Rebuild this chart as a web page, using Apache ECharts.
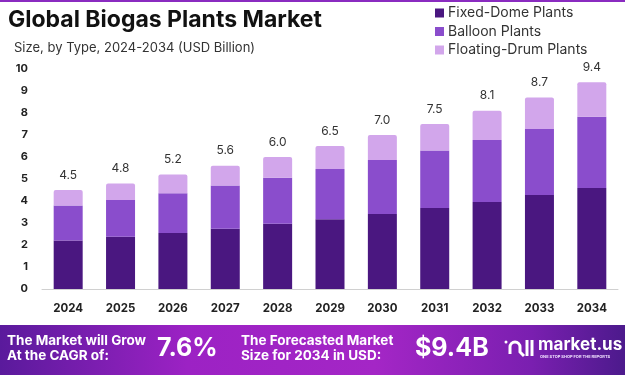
<!DOCTYPE html>
<html>
<head>
<meta charset="utf-8">
<script src="https://cdn.jsdelivr.net/npm/echarts@6/dist/echarts.min.js"></script>
<style>
  html, body { margin: 0; padding: 0; background: #fff; }
  #chart { width: 625px; height: 375px; }
</style>
</head>
<body>
<div id="chart"></div>
<script>
// data
var years = ['2024', '2025', '2026', '2027', '2028', '2029', '2030', '2031', '2032', '2033', '2034'];
var fixedDome = [2.2, 2.38, 2.55, 2.74, 2.97, 3.17, 3.41, 3.68, 3.95, 4.27, 4.59];
var balloon = [1.6, 1.67, 1.8, 1.96, 2.09, 2.28, 2.45, 2.61, 2.82, 3.0, 3.24];
var floatingDrum = [0.7, 0.75, 0.85, 0.9, 0.94, 1.05, 1.14, 1.21, 1.33, 1.43, 1.57];
var totals = ['4.5', '4.8', '5.2', '5.6', '6.0', '6.5', '7.0', '7.5', '8.1', '8.7', '9.4'];

var font = 'Inter';
var chart = echarts.init(document.getElementById('chart'));

chart.setOption({
    animation: false,
    textStyle: { fontFamily: font },
    title: [
        {
            text: 'Global Biogas Plants Market',
            left: 8, top: 9, padding: 0,
            textStyle: { fontSize: 23, fontWeight: 'bold', color: '#111', fontFamily: font }
        },
        {
            text: 'Size, by Type, 2024-2034 (USD Billion)',
            left: 14, top: 42, padding: 0,
            textStyle: { fontSize: 13, fontWeight: 'normal', color: '#333', fontFamily: font }
        }
    ],
    legend: {
        orient: 'vertical',
        left: 435,
        top: 6,
        padding: 0,
        itemWidth: 9,
        itemHeight: 9,
        itemGap: 4.5,
        icon: 'rect',
        textStyle: { fontSize: 14, lineHeight: 14, color: '#333', fontFamily: font, padding: [0, 0, 0, -1] }
    },
    grid: { left: 42, right: 7, top: 69, bottom: 86 },
    xAxis: {
        type: 'category',
        data: years,
        axisLine: { lineStyle: { color: '#d0d0d0' } },
        axisTick: { show: false },
        axisLabel: { color: '#222', fontWeight: 'bold', fontSize: 11.5, margin: 14 }
    },
    yAxis: {
        type: 'value',
        min: 0,
        max: 10,
        interval: 1,
        splitLine: { show: false },
        axisLabel: { color: '#222', fontWeight: 'bold', fontSize: 11, margin: 14 }
    },
    series: [
        {
            name: 'Fixed-Dome Plants', type: 'bar', stack: 'a', data: fixedDome,
            barWidth: 29, itemStyle: { color: '#4A1780' }
        },
        {
            name: 'Balloon Plants', type: 'bar', stack: 'a', data: balloon,
            itemStyle: { color: '#8A4DCC' }
        },
        {
            name: 'Floating-Drum Plants', type: 'bar', stack: 'a', data: floatingDrum,
            itemStyle: { color: '#D2A6EB', borderRadius: [2, 2, 0, 0] },
            label: {
                show: true, position: 'top', distance: 9,
                color: '#333', fontSize: 12,
                formatter: function (p) { return totals[p.dataIndex]; }
            }
        }
    ],
    graphic: [
        // thin line at the top edge
        { type: 'rect', left: 0, top: 0, shape: { width: 625, height: 2 }, style: { fill: '#8a2bc0' } },
        // bottom banner
        {
            type: 'rect', left: 0, top: 325, shape: { width: 625, height: 50 },
            style: {
                fill: new echarts.graphic.LinearGradient(0, 0, 1, 0, [
                    { offset: 0, color: '#5a1a9c' },
                    { offset: 0.3, color: '#9c22c4' },
                    { offset: 0.6, color: '#a426c6' },
                    { offset: 0.85, color: '#7a1fb0' },
                    { offset: 1, color: '#4c1a8c' }
                ])
            }
        },
        {
            type: 'text', left: 7, top: 333,
            style: { text: 'The Market will Grow\nAt the CAGR of:', fill: '#fff', font: 'bold 13.5px Inter', lineHeight: 15 }
        },
        {
            type: 'text', left: 157, top: 336,
            style: { text: '7.6%', fill: '#fff', font: 'bold 25px Inter', shadowBlur: 4, shadowColor: 'rgba(0,0,0,0.3)' }
        },
        {
            type: 'text', left: 241, top: 333,
            style: { text: 'The Forecasted Market\nSize for 2034 in USD:', fill: '#fff', font: 'bold 13.5px Inter', lineHeight: 15 }
        },
        {
            type: 'text', left: 415, top: 336,
            style: { text: '$9.4B', fill: '#fff', font: 'bold 25px Inter', shadowBlur: 4, shadowColor: 'rgba(0,0,0,0.3)' }
        },
        // logo mark
        {
            type: 'arc', shape: { cx: 515, cy: 347, r: 5, startAngle: Math.PI, endAngle: 0 },
            style: { stroke: '#fff', lineWidth: 3, fill: null }
        },
        {
            type: 'polyline', shape: { points: [[510, 347], [510, 354]] },
            style: { stroke: '#fff', lineWidth: 3 }
        },
        {
            type: 'polyline', shape: { points: [[520, 347], [520, 352], [524, 356]] },
            style: { stroke: '#fff', lineWidth: 3, fill: null }
        },
        {
            type: 'polyline', shape: { points: [[527, 340], [527, 356]] },
            style: { stroke: '#fff', lineWidth: 3 }
        },
        {
            type: 'polyline', shape: { points: [[532, 340], [532, 356]] },
            style: { stroke: '#fff', lineWidth: 3 }
        },
        {
            type: 'circle', shape: { cx: 506, cy: 342, r: 1.5 }, style: { fill: '#fff' }
        },
        {
            type: 'text', left: 538, top: 336,
            style: { text: 'market.us', fill: '#fff', font: 'bold 17px Inter' }
        },
        {
            type: 'text', left: 540, top: 355,
            style: { text: 'ONE STOP SHOP FOR THE REPORTS', fill: '#f0e0ff', font: 'bold 4px Inter' }
        }
    ]
});
</script>
</body>
</html>
